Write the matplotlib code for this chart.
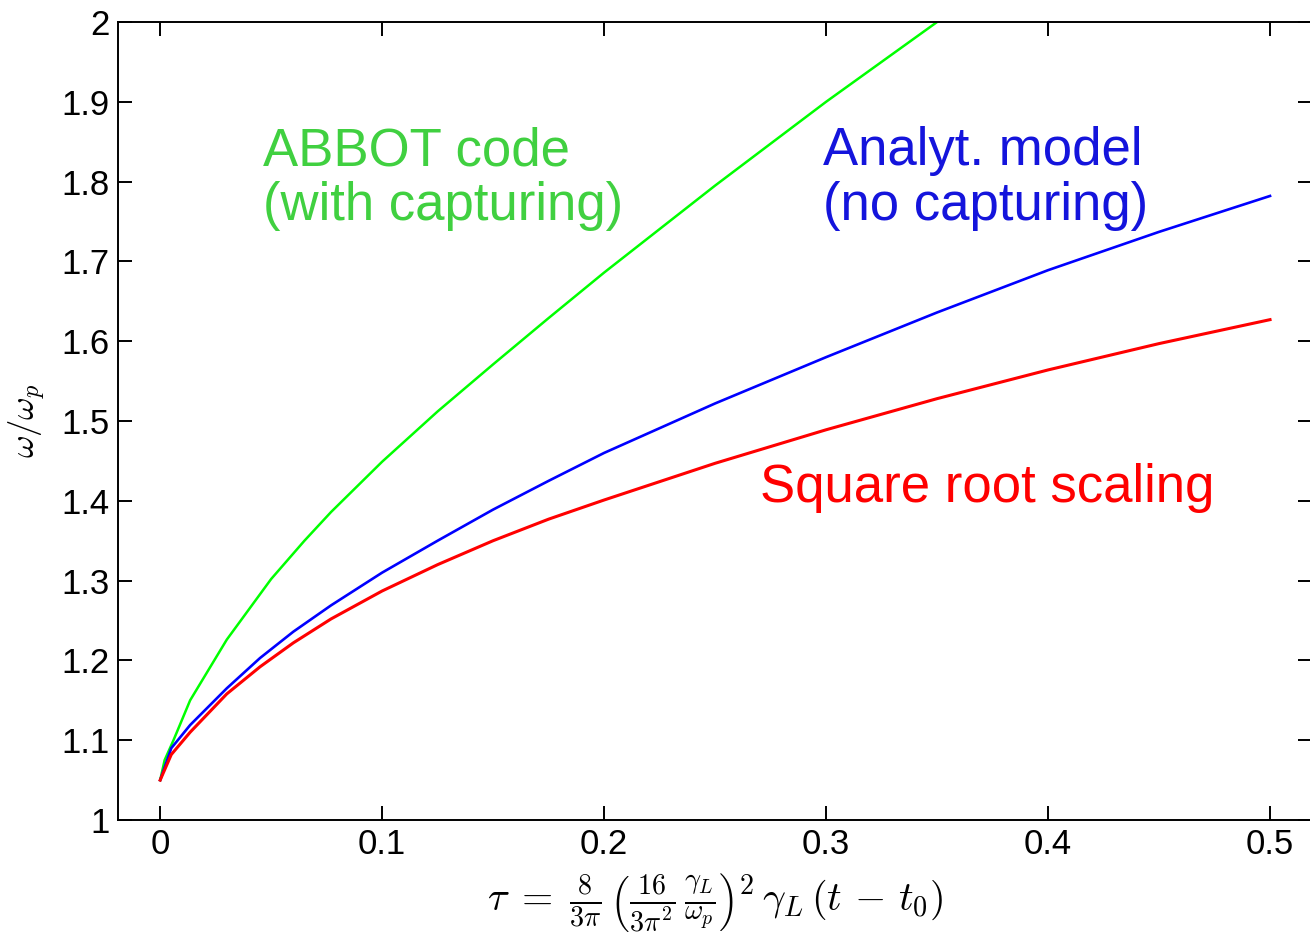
import numpy as np
import matplotlib
matplotlib.use("Agg")
import matplotlib.pyplot as plt

plt.rcParams["font.family"] = ["Liberation Sans", "DejaVu Sans"]
plt.rcParams["mathtext.fontset"] = "cm"

# values
tau_abbot = [0, 0.002, 0.006, 0.0135, 0.03, 0.05, 0.065, 0.077, 0.1, 0.125, 0.15,
             0.175, 0.2, 0.25, 0.3, 0.35, 0.353]
w_abbot = [1.05, 1.075, 1.10, 1.15, 1.226, 1.302, 1.35, 1.386, 1.449, 1.512, 1.571,
           1.629, 1.686, 1.795, 1.90, 2.0, 2.006]

tau_model = [0, 0.005, 0.0135, 0.03, 0.045, 0.06, 0.077, 0.1, 0.125, 0.15, 0.175,
             0.2, 0.25, 0.3, 0.35, 0.4, 0.45, 0.5]
w_analyt = [1.05, 1.09, 1.119, 1.165, 1.203, 1.236, 1.269, 1.31, 1.35, 1.389, 1.425,
            1.46, 1.522, 1.58, 1.636, 1.689, 1.737, 1.782]
w_sqrt = [1.05, 1.082, 1.11, 1.158, 1.192, 1.222, 1.252, 1.287, 1.32, 1.35, 1.377,
          1.401, 1.447, 1.489, 1.528, 1.564, 1.597, 1.627]

xticks = [0, 0.1, 0.2, 0.3, 0.4, 0.5]
xticklabels = ["0", "0.1", "0.2", "0.3", "0.4", "0.5"]
yticks = [1, 1.1, 1.2, 1.3, 1.4, 1.5, 1.6, 1.7, 1.8, 1.9, 2]
yticklabels = ["1", "1.1", "1.2", "1.3", "1.4", "1.5", "1.6", "1.7", "1.8", "1.9", "2"]

fig = plt.figure(figsize=(13.1, 9.38), dpi=100)
ax = fig.add_axes([118 / 1310, 118 / 938, 1194.2 / 1310, 798 / 938])

ax.plot(tau_abbot, w_abbot, color="#00ff00", lw=1.8)
ax.plot(tau_model, w_analyt, color="#0000ff", lw=1.9)
ax.plot(tau_model, w_sqrt, color="#ff0000", lw=2.2)

ax.set_xlim(-0.019, 0.519)
ax.set_ylim(1, 2)
ax.set_xticks(xticks)
ax.set_xticklabels(xticklabels)
ax.set_yticks(yticks)
ax.set_yticklabels(yticklabels)
ax.tick_params(direction="in", length=10, width=1.4, labelsize=25,
               top=True, right=True, pad=6)
for s in ax.spines.values():
    s.set_linewidth(1.4)

ax.set_ylabel(r"$\omega/\omega_p$", fontsize=25, labelpad=10)
ax.set_xlabel(r"$\tau\;=\;\frac{8}{3\pi}\,\left(\frac{16}{3\pi^2}\,\frac{\gamma_L}{\omega_p}\right)^2\,\gamma_L\,(t\,-\,t_0)$",
              fontsize=29, labelpad=8)

# curve labels
big = 38
ax.text(0.0464, 1.8208, "ABBOT code", color="#40d040", fontsize=big, va="baseline")
ax.text(0.0464, 1.7519, "(with capturing)", color="#40d040", fontsize=big, va="baseline")
ax.text(0.2986, 1.8208, "Analyt. model", color="#1414dc", fontsize=big, va="baseline")
ax.text(0.2986, 1.7519, "(no capturing)", color="#1414dc", fontsize=big, va="baseline")
ax.text(0.2703, 1.3985, "Square root scaling", color="#ff0000", fontsize=big, va="baseline")

fig.savefig("out.png", dpi=100)
